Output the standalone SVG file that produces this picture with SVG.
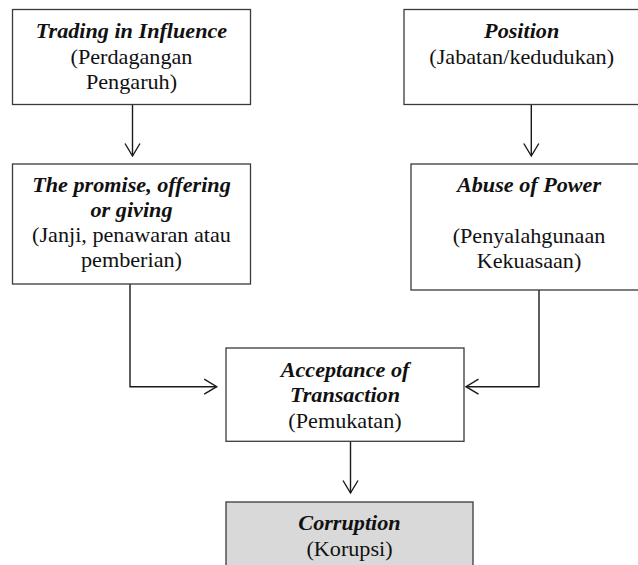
<svg xmlns="http://www.w3.org/2000/svg" width="638" height="565" viewBox="0 0 638 565">
  <style>
    .box { fill: #ffffff; stroke: #3a3a3a; stroke-width: 1.3; }
    .box.grey { fill: #d9d9d9; }
    .t { font-family: "Liberation Serif", "Times New Roman", serif; font-size: 20px; fill: #111111; text-anchor: middle; }
    .b { font-weight: bold; font-style: italic; }
    .c { fill: none; stroke: #1a1a1a; stroke-width: 1.4; }
  </style>
  <defs>
    <marker id="arr" markerUnits="userSpaceOnUse" markerWidth="20" markerHeight="20" refX="13" refY="9" orient="auto" overflow="visible">
      <path d="M0.5,1.5 L13,9 L0.5,16.5" fill="none" stroke="#1a1a1a" stroke-width="1.4"/>
    </marker>
  </defs>
  <rect width="638" height="565" fill="#ffffff"/>

  <g id="connectors">
    <path class="c" d="M132.5,104.5 V156" marker-end="url(#arr)"/>
    <path class="c" d="M531.3,104.5 V156" marker-end="url(#arr)"/>
    <path class="c" d="M130,284 V386.7 H216.7" marker-end="url(#arr)"/>
    <path class="c" d="M539,290 V386.7 H466" marker-end="url(#arr)"/>
    <path class="c" d="M350.5,441.3 V493" marker-end="url(#arr)"/>
  </g>

  <g id="trading">
    <rect class="box" x="12.5" y="9.5" width="238" height="95"/>
    <g transform="translate(131.5,0) scale(1.11,1)">
      <text class="t b" x="0" y="38.5">Trading in Influence</text>
      <text class="t" x="0" y="64">(Perdagangan</text>
      <text class="t" x="0" y="89.5">Pengaruh)</text>
    </g>
  </g>

  <g id="promise">
    <rect class="box" x="12.5" y="164" width="238" height="120"/>
    <g transform="translate(131.5,0) scale(1.11,1)">
      <text class="t b" x="0" y="192.5">The promise, offering</text>
      <text class="t b" x="0" y="217.5">or giving</text>
      <text class="t" x="0" y="242.5">(Janji, penawaran atau</text>
      <text class="t" x="0" y="267.5">pemberian)</text>
    </g>
  </g>

  <g id="position">
    <rect class="box" x="404" y="9.5" width="236" height="95"/>
    <g transform="translate(521.7,0) scale(1.11,1)">
      <text class="t b" x="0" y="38.5">Position</text>
      <text class="t" x="0" y="64.5">(Jabatan/kedudukan)</text>
    </g>
  </g>

  <g id="abuse">
    <rect class="box" x="411" y="164" width="237" height="126"/>
    <g transform="translate(529,0) scale(1.11,1)">
      <text class="t b" x="0" y="192.5">Abuse of Power</text>
      <text class="t" x="0" y="243">(Penyalahgunaan</text>
      <text class="t" x="0" y="268.5">Kekuasaan)</text>
    </g>
  </g>

  <g id="acceptance">
    <rect class="box" x="226" y="348" width="238" height="93.3"/>
    <g transform="translate(345,0) scale(1.11,1)">
      <text class="t b" x="0" y="377">Acceptance of</text>
      <text class="t b" x="0" y="402.5">Transaction</text>
      <text class="t" x="0" y="428">(Pemukatan)</text>
    </g>
  </g>

  <g id="corruption">
    <rect class="box grey" x="226" y="502" width="247" height="80"/>
    <g transform="translate(349.5,0) scale(1.11,1)">
      <text class="t b" x="0" y="530.5">Corruption</text>
      <text class="t" x="0" y="556.5">(Korupsi)</text>
    </g>
  </g>
</svg>
